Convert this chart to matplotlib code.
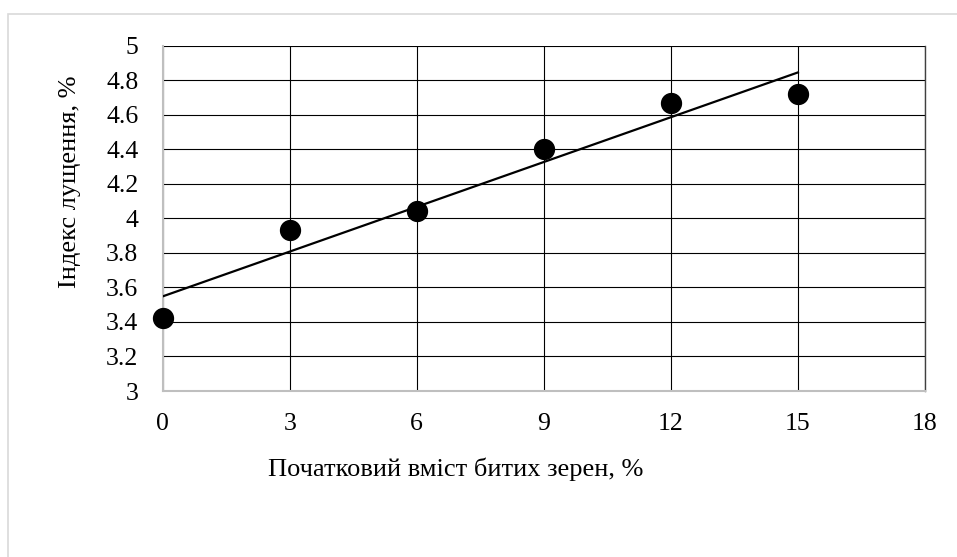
import numpy as np
import matplotlib.pyplot as plt
from matplotlib.patches import Rectangle

plt.rcParams['font.family'] = ['Liberation Serif', 'DejaVu Serif']

# дані
vmist = [0, 3, 6, 9, 12, 15]                       # початковий вміст битих зерен, %
indeks = [3.42, 3.93, 4.04, 4.40, 4.67, 4.72]      # індекс лущення, %
xticks = [0, 3, 6, 9, 12, 15, 18]
yticks = [3, 3.2, 3.4, 3.6, 3.8, 4, 4.2, 4.4, 4.6, 4.8, 5]
ytick_labels = ['3', '3.2', '3.4', '3.6', '3.8', '4', '4.2', '4.4', '4.6', '4.8', '5']

W, H = 957, 557
fig = plt.figure(figsize=(W / 100, H / 100), dpi=100)
# рамка діаграми
fig.patches.append(Rectangle((8 / W, -0.1), 1.2, 1 - 14 / H + 0.1, transform=fig.transFigure,
                             fill=False, edgecolor='#d9d9d9', linewidth=1.2))

ax = fig.add_axes([162.7 / W, 1 - 391 / H, (925 - 162.7) / W, (391 - 45.7) / H])
ax.set_xlim(0, 18)
ax.set_ylim(3, 5)
ax.set_xticks(xticks)
ax.set_yticks(yticks)
ax.set_yticklabels(ytick_labels)
ax.grid(True, color='black', linewidth=0.8)
ax.set_axisbelow(True)
ax.tick_params(length=0, labelsize=18.5, pad=0)
ax.tick_params(axis='x', pad=15.5)
ax.tick_params(axis='y', pad=17.5)

ax.spines['top'].set_visible(False)
ax.spines['right'].set_color('#404040')
ax.spines['right'].set_linewidth(1.0)
for s in ['left', 'bottom']:
    ax.spines[s].set_color('#bfbfbf')
    ax.spines[s].set_linewidth(1.5)
    ax.spines[s].set_zorder(3)

# лінія тренду
k, b = np.polyfit(vmist, indeks, 1)
xt = np.array([vmist[0], vmist[-1]])
ax.plot(xt, k * xt + b, color='black', linewidth=1.6, zorder=4)

ax.scatter(vmist, indeks, s=205, color='black', zorder=5, clip_on=False)

fig.text(456 / W, 1 - 469 / H, 'Початковий вміст битих зерен, %', ha='center', va='center', fontsize=19)
fig.text(70 / W, 1 - 182 / H, 'Індекс лущення, %', ha='center', va='center', rotation=90, fontsize=19)

fig.savefig('out.png', dpi=100)
